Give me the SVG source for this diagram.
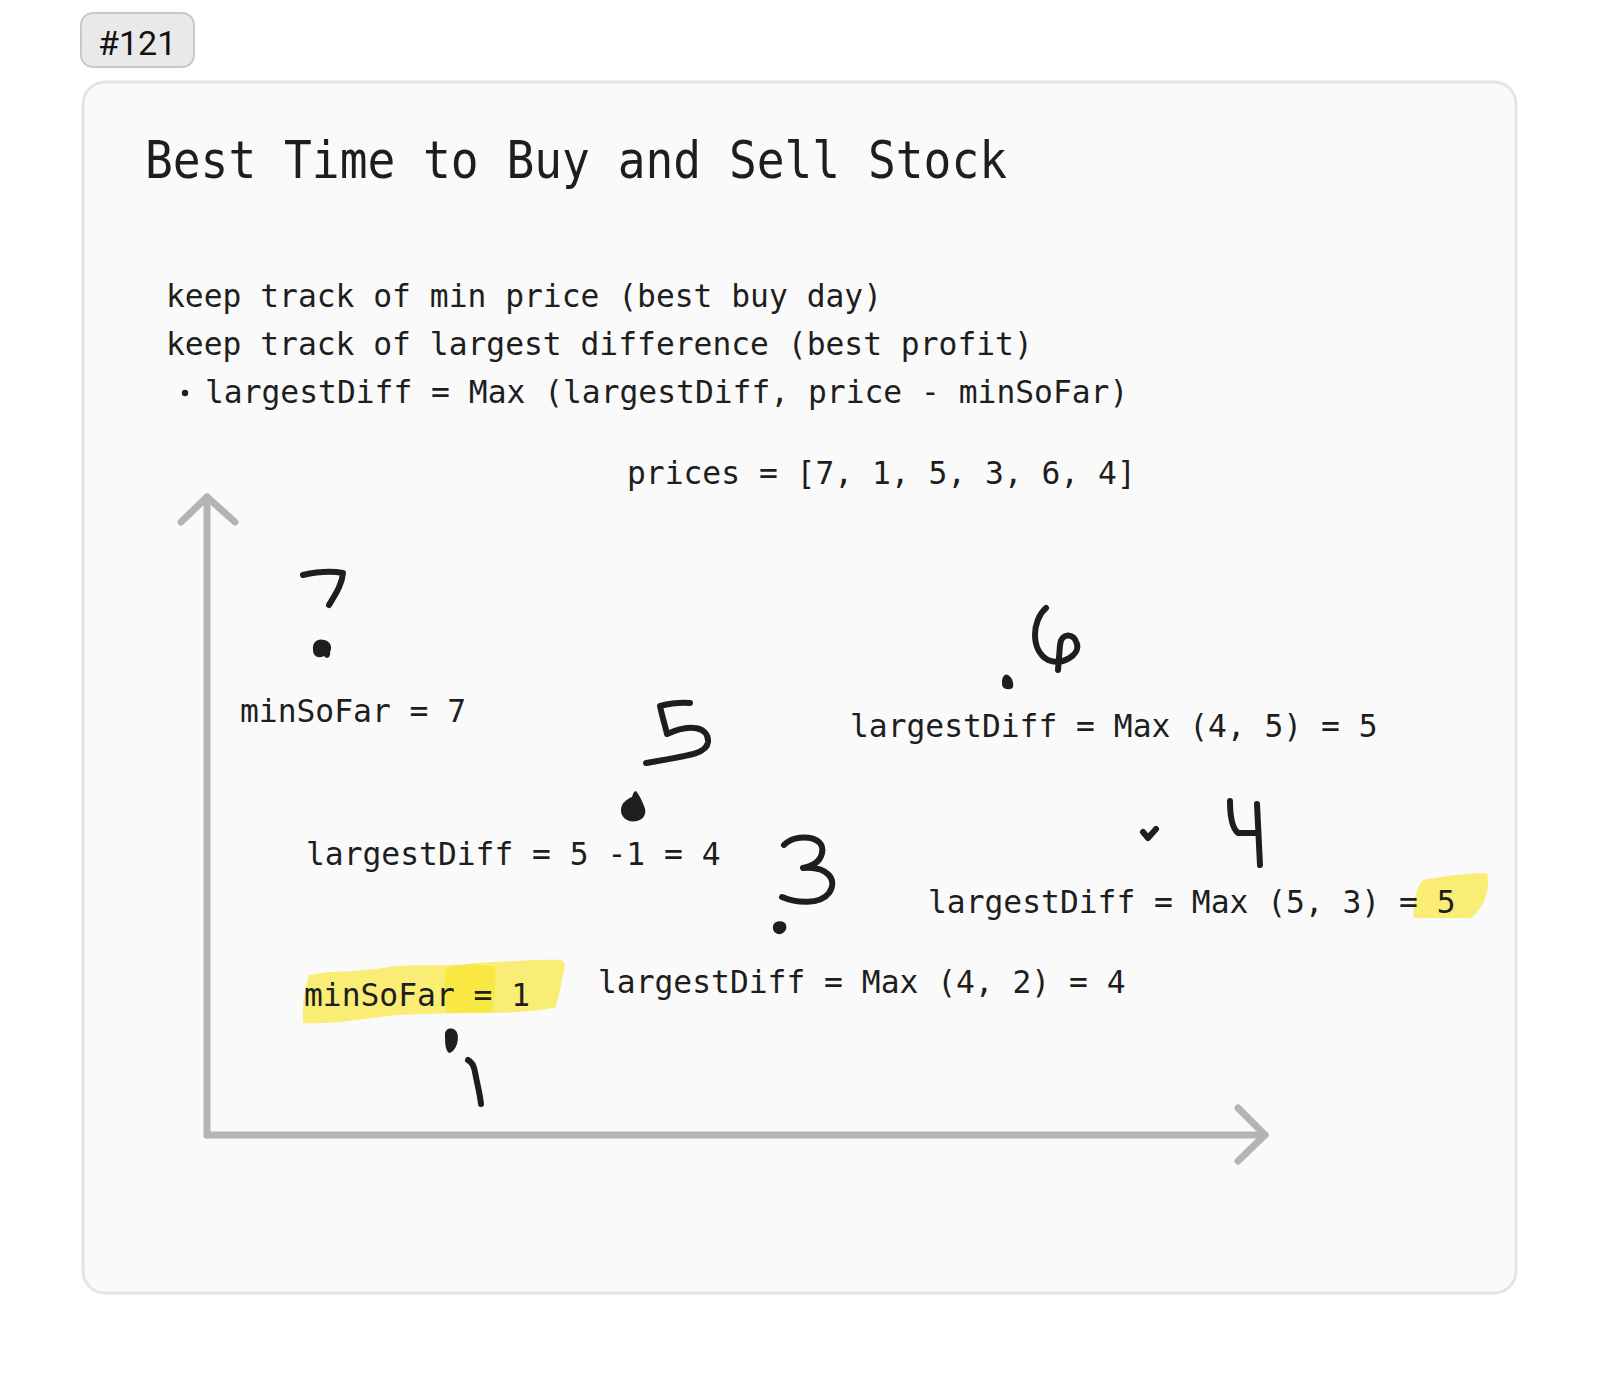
<svg xmlns="http://www.w3.org/2000/svg" width="1600" height="1376" viewBox="0 0 1600 1376">
<style>
.t{font-family:"DejaVu Sans Mono","Liberation Mono",monospace;font-size:31.3px;fill:#1e1e1e}
.ink{fill:none;stroke:#1e1e1e;stroke-width:6;stroke-linecap:round;stroke-linejoin:round}
.dot{fill:#1e1e1e}
.ax{fill:none;stroke:#b4b4b4;stroke-width:7;stroke-linecap:round;stroke-linejoin:round}
.hl{fill:#f8e41e;fill-opacity:0.6}
</style>
<rect width="1600" height="1376" fill="#ffffff"/>
<g id="badge">
<rect x="81" y="13" width="113" height="54" rx="12" fill="#e9e9e9" stroke="#c8c8c8" stroke-width="2"/>
<text x="98" y="55" font-family="Roboto,'Noto Sans',sans-serif" font-size="34" fill="#111">#121</text>
</g>
<g id="panel">
<rect x="83" y="82" width="1433" height="1211" rx="22" fill="#fafafa" stroke="#e4e4e4" stroke-width="3"/>
</g>
<g id="title">
<text x="145" y="178" font-family="'DejaVu Sans Mono','Liberation Mono',monospace" font-size="52" fill="#1e1e1e" textLength="862" lengthAdjust="spacingAndGlyphs">Best Time to Buy and Sell Stock</text>
</g>
<g id="notes">
<text class="t" x="166" y="307">keep track of min price (best buy day)</text>
<text class="t" x="166" y="355">keep track of largest difference (best profit)</text>
<circle cx="185" cy="393" r="3.2" fill="#1e1e1e"/>
<text class="t" x="205" y="403">largestDiff = Max (largestDiff, price - minSoFar)</text>
<text class="t" x="627" y="484">prices = [7, 1, 5, 3, 6, 4]</text>
</g>
<g id="highlights">
<path class="hl" d="M303,1023 C302,1005 305,988 309,975 C335,970 360,972 383,968 C405,964 430,966 452,965 C470,964 485,965 495,967 C496,982 494,998 492,1012 C460,1014 430,1013 400,1015 C370,1017 335,1025 303,1023 Z"/>
<path class="hl" d="M446,968 C465,964 480,962 498,962 C520,961 540,959 561,960 C565,962 566,966 564,970 C561,985 559,996 556,1007 C540,1011 520,1012 498,1013 L446,1013 C444,998 444,982 446,968 Z"/>
<path class="hl" d="M1423,880 C1445,876 1465,873 1487,873 C1490,885 1487,905 1471,918 L1414,918 C1412,905 1415,890 1423,880 Z"/>
</g>
<g id="connectors">
<path class="ax" d="M207,1135 L207,497"/>
<path class="ax" d="M181,522 L207,497 L235,522"/>
<path class="ax" d="M207,1135 L1265,1135"/>
<path class="ax" d="M1238,1108 L1265,1135 L1238,1161"/>
</g>
<g id="p7">
<path class="ink" d="M303,575 C316,572 332,571 343,573 C342,585 335,595 329,605"/>
<path class="dot" d="M313,650 C312,642 318,638 324,640 C330,641 333,647 330,652 C331,657 327,660 324,656 C318,659 313,656 313,650 Z"/>
<text class="t" x="240" y="722">minSoFar = 7</text>
</g>
<g id="p1">
<path class="dot" d="M445,1034 C445,1029 451,1027 455,1030 C459,1033 458,1040 457,1044 C455,1049 453,1052 449,1053 C445,1050 445,1042 445,1034 Z"/>
<path class="ink" d="M468,1060 C472,1062 474,1066 475,1072 C477,1083 480,1094 481,1104"/>
<text class="t" x="304" y="1006">minSoFar = 1</text>
</g>
<g id="p5">
<path class="ink" d="M690,703 C678,702 668,704 660,706 C662,716 665,725 667,734 C690,723 709,727 708,742 C707,753 693,755 646,763"/>
<path class="dot" d="M636,791 C640,796 642,801 644,806 C647,812 645,819 637,821 C628,823 621,818 621,810 C621,803 627,799 632,797 C633,794 634,791 636,791 Z"/>
<text class="t" x="306" y="865">largestDiff = 5 -1 = 4</text>
</g>
<g id="p3">
<path class="ink" d="M784,845 C795,833 826,835 822,853 C820,863 811,866 803,868 C828,866 838,880 829,893 C820,905 796,903 782,897"/>
<path class="dot" d="M773,926 C774,921 781,920 785,923 C788,927 786,932 781,934 C776,935 772,931 773,926 Z"/>
<text class="t" x="598" y="993">largestDiff = Max (4, 2) = 4</text>
</g>
<g id="p6">
<path class="ink" d="M1046,608 C1032,620 1030,650 1048,660 C1062,666 1080,655 1077,644 C1074,632 1061,633 1060,645 L1058,670"/>
<path class="dot" d="M1002,682 C1002,677 1005,673 1008,675 C1012,677 1014,683 1013,687 C1012,690 1005,690 1003,687 C1002,686 1002,684 1002,682 Z"/>
<text class="t" x="850" y="737">largestDiff = Max (4, 5) = 5</text>
</g>
<g id="p4">
<path class="ink" d="M1143,832 L1148,838 L1156,829"/>
<path class="ink" d="M1230,801 C1230,815 1232,828 1238,833 L1258,833"/>
<path class="ink" d="M1257,804 L1260,865"/>
<text class="t" x="928" y="913">largestDiff = Max (5, 3) = 5</text>
</g>
</svg>
